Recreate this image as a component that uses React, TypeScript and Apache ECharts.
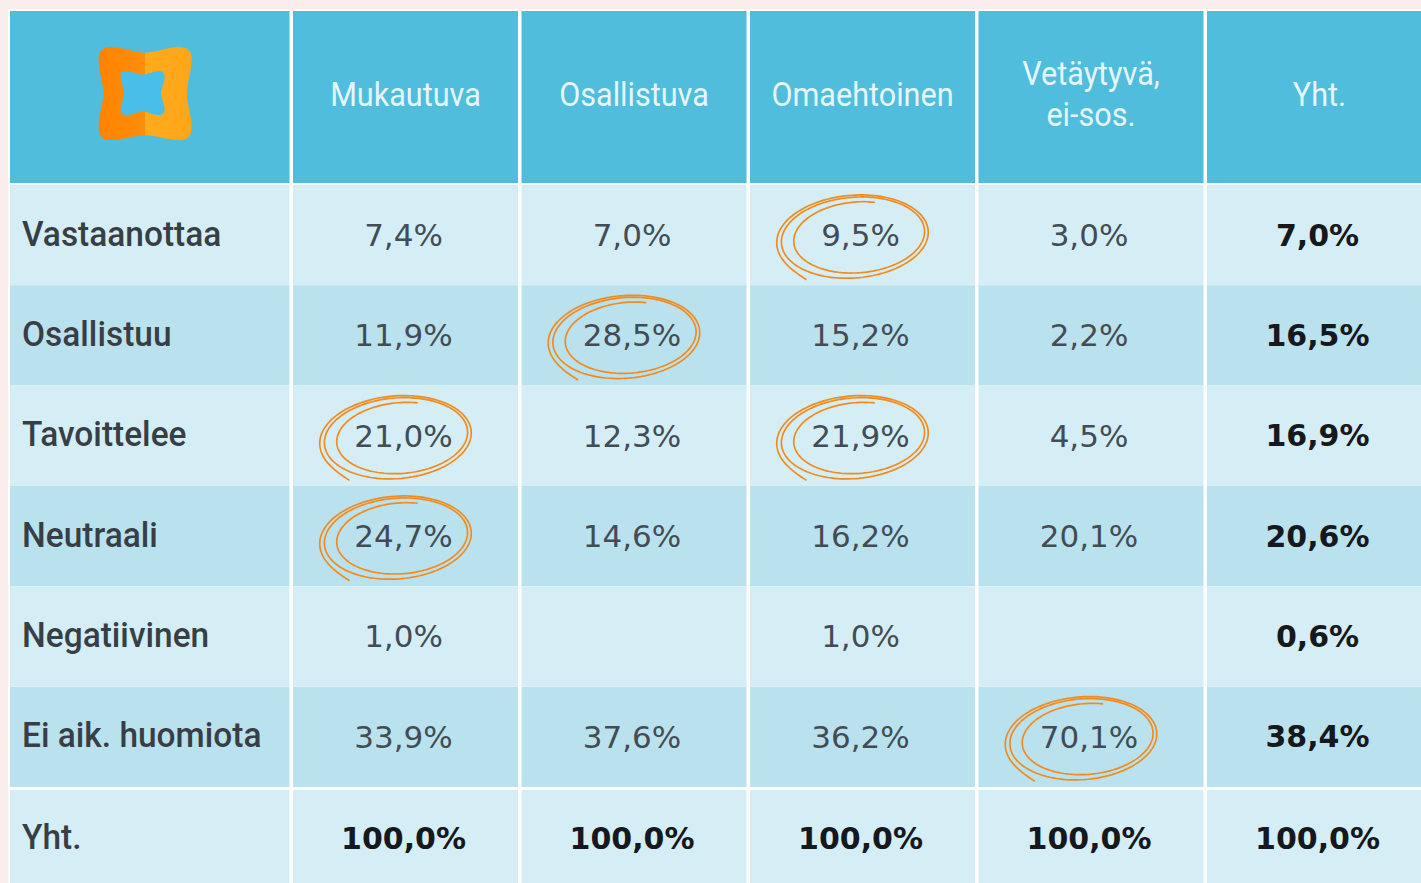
import React, { useEffect, useRef } from 'react';
import * as echarts from 'echarts';

const columns = ['Mukautuva', 'Osallistuva', 'Omaehtoinen', 'Vetäytyvä,\nei-sos.', 'Yht.'];
const rows = ['Vastaanottaa', 'Osallistuu', 'Tavoittelee', 'Neutraali', 'Negatiivinen', 'Ei aik. huomiota', 'Yht.'];
const mukautuva = [7.4, 11.9, 21.0, 24.7, 1.0, 33.9, 100.0];
const osallistuva = [7.0, 28.5, 12.3, 14.6, null, 37.6, 100.0];
const omaehtoinen = [9.5, 15.2, 21.9, 16.2, 1.0, 36.2, 100.0];
const vetaytyva = [3.0, 2.2, 4.5, 20.1, null, 70.1, 100.0];
const yhteensa = [7.0, 16.5, 16.9, 20.6, 0.6, 38.4, 100.0];
const circled: [number, number][] = [[2, 0], [1, 1], [0, 2], [2, 2], [0, 3], [3, 5]];

const seriesByColumn = [mukautuva, osallistuva, omaehtoinen, vetaytyva, yhteensa];

const HEADER = '#4fbddb';
const LIGHT = '#d5eef5';
const DARK = '#bae2ee';
const GAP = '#ffffff';

const fmt = (v: number | null) => (v == null ? '' : v.toFixed(1).replace('.', ',') + '%');

const valueCells: { ci: number; ri: number; text: string; bold: boolean }[] = [];
seriesByColumn.forEach((arr, ci) => {
  arr.forEach((v, ri) => {
    valueCells.push({ ci, ri, text: fmt(v as number | null), bold: ci === 4 || ri === 6 });
  });
});

const outerLogo =
  'M0,-43 C12,-43 22,-49 36,-49 C45,-49 49,-45 49,-36 C49,-22 44,-12 44,0 C44,12 49,22 49,36 C49,45 45,49 36,49 C22,49 12,44 0,44 C-12,44 -22,49 -36,49 C-45,49 -49,45 -49,36 C-49,22 -44,12 -44,0 C-44,-12 -49,-22 -49,-36 C-49,-45 -45,-49 -36,-49 C-22,-49 -12,-43 0,-43 Z';
const innerLogo =
  'M0,-41 C12,-41 22,-49 36,-49 C45,-49 49,-45 49,-36 C49,-22 41,-12 41,0 C41,12 49,22 49,36 C49,45 45,49 36,49 C22,49 12,41 0,41 C-12,41 -22,49 -36,49 C-45,49 -49,45 -49,36 C-49,22 -41,12 -41,0 C-41,-12 -49,-22 -49,-36 C-49,-45 -45,-49 -36,-49 C-22,-49 -12,-41 0,-41 Z';

function sketchLoop(cx: number, cy: number): number[][] {
  const pts: number[][] = [];
  const N = 320;
  const turns = 2.45;
  const phi = (-5 * Math.PI) / 180;
  for (let k = 0; k <= N; k++) {
    const f = k / N;
    const th = 2.2 + f * turns * 2 * Math.PI;
    const g = Math.pow(f, 2.2);
    const tail = 9 * Math.exp(-f * 45);
    const rx = 76 - 16 * g + tail;
    const ry = 42 - 9 * g + tail * 0.6;
    const ox = cx + 6 * g;
    const oy = cy - 2 * g;
    const ex = rx * Math.cos(th);
    const ey = ry * Math.sin(th);
    pts.push([ox + ex * Math.cos(phi) - ey * Math.sin(phi), oy + ex * Math.sin(phi) + ey * Math.cos(phi)]);
  }
  return pts;
}

const App: React.FC = () => {
  const ref = useRef<HTMLDivElement>(null);

  useEffect(() => {
    if (!ref.current) return;
    const chart = echarts.init(ref.current, undefined, { renderer: 'svg' });

    const leftW = 283.25;
    const gridBLeft = 8 + leftW;
    const colPitch = 228.5;
    const rowPitch = 100.33;
    const gridBW = 1421 - gridBLeft;
    const bodyH = 883 - 185;
    const xMax = -0.5 + gridBW / colPitch;
    const yMax = -0.5 + bodyH / rowPitch;

    const logoFill = new echarts.graphic.LinearGradient(0, 0, 1, 0, [
      { offset: 0, color: '#ff8300' },
      { offset: 0.5, color: '#ff8e0a' },
      { offset: 0.5, color: '#ffab1c' },
      { offset: 1, color: '#ffa518' },
    ]);

    const option: any = {
      animation: false,
      backgroundColor: '#f9edeb',
      grid: [
        { left: 8, top: 9, width: leftW, height: 176 },
        { left: gridBLeft, top: 9, right: 0, height: 176 },
        { left: 8, top: 185, width: leftW, bottom: 0 },
        { left: gridBLeft, top: 185, right: 0, bottom: 0 },
      ],
      xAxis: [
        { type: 'category', gridIndex: 0, data: ['logo'], show: false },
        { type: 'value', gridIndex: 1, min: -0.5, max: xMax, show: false },
        { type: 'category', gridIndex: 2, data: ['label'], show: false },
        { type: 'value', gridIndex: 3, min: -0.5, max: xMax, show: false },
      ],
      yAxis: [
        { type: 'category', gridIndex: 0, data: ['header'], show: false },
        { type: 'category', gridIndex: 1, data: ['header'], show: false },
        { type: 'value', gridIndex: 2, min: -0.5, max: yMax, inverse: true, show: false },
        { type: 'value', gridIndex: 3, min: -0.5, max: yMax, inverse: true, show: false },
      ],
      series: [
        {
          type: 'custom',
          xAxisIndex: 0,
          yAxisIndex: 0,
          data: [[0, 0]],
          encode: { x: 0, y: 1 },
          renderItem: (params: any, api: any) => {
            const c = api.coord([api.value(0), api.value(1)]);
            const s = api.size([1, 1]);
            return {
              type: 'group',
              children: [
                { type: 'rect', shape: { x: c[0] - s[0] / 2, y: c[1] - s[1] / 2, width: s[0], height: s[1] }, style: { fill: GAP } },
                { type: 'rect', shape: { x: c[0] - s[0] / 2 + 2, y: c[1] - s[1] / 2 + 2, width: s[0] - 3.75, height: s[1] - 4 }, style: { fill: HEADER } },
                {
                  type: 'path',
                  shape: { pathData: outerLogo, x: c[0] - 51, y: c[1] - 50, width: 93, height: 93 },
                  style: { fill: logoFill },
                },
                {
                  type: 'path',
                  shape: { pathData: innerLogo, x: c[0] - 29, y: c[1] - 27, width: 44, height: 46 },
                  style: { fill: '#47bfe8' },
                },
              ],
            };
          },
        },
        {
          type: 'custom',
          xAxisIndex: 1,
          yAxisIndex: 1,
          data: columns.map((_, i) => [i, 0]),
          encode: { x: 0, y: 1 },
          renderItem: (params: any, api: any) => {
            const c = api.coord([api.value(0), api.value(1)]);
            const w = api.size([1, 1])[0];
            const h = 176;
            const text = columns[params.dataIndex];
            return {
              type: 'group',
              children: [
                { type: 'rect', shape: { x: c[0] - w / 2, y: c[1] - h / 2, width: w, height: h }, style: { fill: GAP } },
                { type: 'rect', shape: { x: c[0] - w / 2 + 1.75, y: c[1] - h / 2 + 2, width: w - 3.5, height: h - 4 }, style: { fill: HEADER } },
                {
                  type: 'text',
                  x: c[0],
                  y: c[1] - 3,
                  scaleX: 0.9,
                  style: {
                    text,
                    x: 0,
                    y: 0,
                    fill: '#e6f7fb',
                    fontFamily: 'Roboto',
                    fontSize: 34,
                    lineHeight: 41,
                    align: 'center',
                    verticalAlign: 'middle',
                  },
                },
              ],
            };
          },
        },
        {
          type: 'custom',
          xAxisIndex: 2,
          yAxisIndex: 2,
          data: rows.map((_, i) => [0, i]),
          encode: { x: 0, y: 1 },
          renderItem: (params: any, api: any) => {
            const c = api.coord([api.value(0), api.value(1)]);
            const s = api.size([1, 1]);
            const w = 283.25;
            const ri = params.dataIndex;
            const top = ri === 6 ? 3 : 0;
            const x0 = c[0] - w / 2;
            return {
              type: 'group',
              children: [
                { type: 'rect', shape: { x: x0, y: c[1] - s[1] / 2, width: w, height: s[1] }, style: { fill: GAP } },
                { type: 'rect', shape: { x: x0 + 2, y: c[1] - s[1] / 2 + top, width: w - 3.75, height: s[1] - top }, style: { fill: ri % 2 === 0 ? LIGHT : DARK } },
                {
                  type: 'text',
                  x: x0 + 14,
                  y: c[1] - 2 + top / 2,
                  scaleX: 0.93,
                  style: {
                    text: rows[ri],
                    x: 0,
                    y: 0,
                    fill: '#383e45',
                    fontFamily: 'Roboto',
                    fontWeight: 500,
                    fontSize: 36,
                    align: 'left',
                    verticalAlign: 'middle',
                  },
                },
              ],
            };
          },
        },
        {
          type: 'custom',
          xAxisIndex: 3,
          yAxisIndex: 3,
          data: valueCells.map((d) => [d.ci, d.ri]),
          encode: { x: 0, y: 1 },
          renderItem: (params: any, api: any) => {
            const c = api.coord([api.value(0), api.value(1)]);
            const s = api.size([1, 1]);
            const m = valueCells[params.dataIndex];
            const top = m.ri === 6 ? 3 : 0;
            return {
              type: 'group',
              children: [
                { type: 'rect', shape: { x: c[0] - s[0] / 2, y: c[1] - s[1] / 2, width: s[0], height: s[1] }, style: { fill: GAP } },
                {
                  type: 'rect',
                  shape: { x: c[0] - s[0] / 2 + 1.75, y: c[1] - s[1] / 2 + top, width: s[0] - 3.5, height: s[1] - top },
                  style: { fill: m.ri % 2 === 0 ? LIGHT : DARK },
                },
                {
                  type: 'text',
                  x: c[0] - 2,
                  y: c[1] + top / 2,
                  style: {
                    text: m.text,
                    x: 0,
                    y: 0,
                    fill: m.bold ? '#15181c' : '#434c54',
                    fontFamily: 'DejaVu Sans',
                    fontWeight: m.bold ? 'bold' : 'normal',
                    fontSize: m.bold ? 30 : 31,
                    align: 'center',
                    verticalAlign: 'middle',
                  },
                },
              ],
            };
          },
        },
        {
          type: 'custom',
          xAxisIndex: 3,
          yAxisIndex: 3,
          data: circled.map((d) => [d[0], d[1]]),
          encode: { x: 0, y: 1 },
          renderItem: (params: any, api: any) => {
            const c = api.coord([api.value(0), api.value(1)]);
            return {
              type: 'polyline',
              shape: { points: sketchLoop(c[0] - 9.5, c[1] + 2) },
              style: { stroke: '#f28b1d', lineWidth: 1.7, fill: 'none' },
            };
          },
        },
      ],
    };

    chart.setOption(option);
    return () => chart.dispose();
  }, []);

  return <div ref={ref} style={{ position: 'absolute', left: 0, top: 0, width: 1421, height: 883 }} />;
};

export default App;
